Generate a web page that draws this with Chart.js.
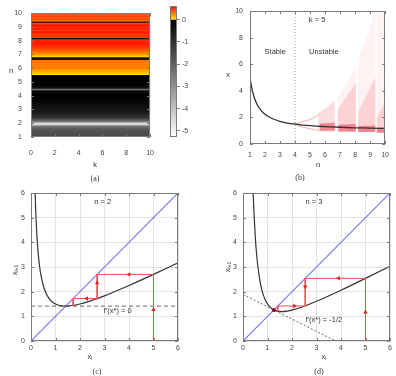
<!DOCTYPE html>
<html><head><meta charset="utf-8">
<script src="https://cdn.jsdelivr.net/npm/chart.js@4/dist/chart.umd.min.js"></script>
<style>
html,body{margin:0;padding:0;background:#fff;}
body{width:396px;height:376px;position:relative;overflow:hidden;font-family:"Liberation Sans",Arial,sans-serif;}
canvas{position:absolute;}
.t{position:absolute;font-size:7.5px;color:#333;transform:translate(-50%,-50%);white-space:nowrap;line-height:1;}
.cap{font-family:"Liberation Serif","Times New Roman",serif;font-size:8px;color:#333;}
.rot{transform:translate(-50%,-50%) rotate(-90deg);}
sub{font-size:5px;vertical-align:-1px;line-height:0;}
</style></head><body>
<canvas id="ca" width="166" height="171" style="left:0;top:0"></canvas>
<canvas id="cbar" width="30" height="171" style="left:166px;top:0"></canvas>
<canvas id="cb" width="200" height="172" style="left:196px;top:0"></canvas>
<canvas id="cc" width="196" height="178" style="left:0;top:180px"></canvas>
<canvas id="cd" width="200" height="178" style="left:196px;top:180px"></canvas>

<div class="t" style="left:11px;top:71px">n</div>
<div class="t" style="left:95px;top:165px">k</div>
<div class="t cap" style="left:95px;top:179px">(a)</div>
<div class="t" style="left:228px;top:75px">x</div>
<div class="t" style="left:318px;top:165px">n</div>
<div class="t cap" style="left:300px;top:178px">(b)</div>
<div class="t rot" style="left:15px;top:270px">x<sub>i+1</sub></div>
<div class="t" style="left:90px;top:357px">x<sub>i</sub></div>
<div class="t cap" style="left:97px;top:372px">(c)</div>
<div class="t rot" style="left:228px;top:267px">x<sub>i+1</sub></div>
<div class="t" style="left:324px;top:357px">x<sub>i</sub></div>
<div class="t cap" style="left:319px;top:372px">(d)</div>

<script>
// ================= DATA =================
// Panel (a): Lyapunov exponent per n (independent of k)
const heatN = [1.0,1.1,1.2,1.3,1.4,1.5,1.6,1.7,1.8,1.9,2.0,2.1,2.2,2.3,2.4,2.5,2.6,2.7,2.8,2.9,
  3.0,3.1,3.2,3.3,3.4,3.5,3.6,3.7,3.8,3.9,4.0,4.1,4.2,4.3,4.4,4.5,4.6,4.7,4.8,4.9,
  5.0,5.1,5.2,5.3,5.4,5.5,5.6,5.7,5.8,5.9,6.0,6.1,6.2,6.3,6.4,6.5,6.6,6.7,6.8,6.9,
  7.0,7.1,7.2,7.3,7.4,7.5,7.6,7.7,7.8,7.9,8.0,8.1,8.2,8.3,8.4,8.5,8.6,8.7,8.8,8.9,
  9.0,9.1,9.2,9.3,9.4,9.5,9.6,9.7,9.8,9.9,10.0];
const heatLyap = [-1.5,-1.55,-1.6,-1.6,-1.65,-1.7,-1.8,-2.0,-2.4,-3.3,-5.27,-3.3,-2.3,-1.7,-1.3,-1.0,-0.85,-0.7,-0.6,-0.5,
  -0.45,-0.4,-0.35,-0.3,-0.25,-0.2,-0.15,-0.12,-0.1,-0.07,-0.05,-0.07,-0.12,-0.2,-0.4,-2.4,-0.4,-0.2,-0.12,-0.1,
  -0.08,-0.07,-0.06,-0.05,-0.04,-0.05,0.05,0.1,0.15,0.2,0.25,0.3,0.25,0.3,0.25,0.3,0.3,-0.4,-0.4,0.05,
  0.15,0.25,0.3,0.35,0.4,0.45,0.5,0.5,0.55,0.55,0.55,0.5,-0.4,0.45,0.5,0.45,0.55,0.55,0.45,0.55,
  0.5,0.55,0.55,0.45,-0.4,0.3,0.45,0.35,0.45,0.4,0.35];
const kRange = [0, 10];
const cbarRange = [-5.27, 0.6];

// Panel (b): k = 5
const bN = [1,1.1,1.2,1.35,1.5,1.75,2,2.5,3,3.5,4,5,6,7,8,9,10];
const bX = [5,4.32,3.82,3.29,2.92,2.51,2.24,1.90,1.71,1.58,1.50,1.38,1.31,1.26,1.22,1.20,1.17];
const p2N = [4,4.3,4.6,5,5.3,5.6];
const p2Up = [1.5,1.6,1.7,1.85,2.0,2.2];
const p2Lo = [1.5,1.35,1.25,1.15,1.08,1.02];
const chaosFaint = [
  [[6.85,0.9],[6.85,3.5],[7.3,4.3],[7.7,5.0],[8.05,6.0],[8.05,0.9]],
  [[8.2,0.9],[8.2,6.3],[8.6,7.5],[9.0,8.7],[9.3,10],[9.35,10],[9.35,0.9]],
  [[9.45,0.85],[9.45,10],[10,10],[10,0.85]]
];
const chaosMid = [
  [[5.55,0.95],[5.55,2.35],[6.0,2.65],[6.65,3.25],[6.65,0.95]],
  [[6.85,0.9],[6.85,2.6],[8.05,4.6],[8.05,0.9]],
  [[8.2,0.9],[8.2,2.4],[9.35,5.0],[9.35,0.9]],
  [[9.45,0.85],[9.45,2.0],[10,3.2],[10,0.85]]
];
const chaosDense = [
  [[5.65,1.0],[5.65,1.55],[6.65,1.6],[6.65,1.0]],
  [[6.9,0.95],[6.9,1.45],[8.05,1.5],[8.05,0.95]],
  [[8.2,0.9],[8.2,1.35],[9.35,1.4],[9.35,0.9]],
  [[9.45,0.85],[9.45,1.2],[10,1.25],[10,0.85]]
];

// Panel (c): n = 2
const cX = [0.16,0.18,0.2,0.25,0.3,0.35,0.4,0.5,0.6,0.7,0.8,0.9,1.0,1.2,1.414,1.6,2.0,2.5,3,3.5,4,5,6];
const cY = [6.33,5.65,5.1,4.13,3.48,3.03,2.7,2.25,1.97,1.78,1.65,1.56,1.5,1.43,1.414,1.43,1.5,1.65,1.83,2.04,2.25,2.7,3.17];
const cCobX = [5,5,2.7,2.7,1.72,1.72];
const cCobY = [0,2.7,2.7,1.72,1.72,1.43];
const cArrX = [5,4,2.7,2.27];
const cArrY = [1.27,2.7,2.35,1.72];
const cFixLevel = 1.414;

// Panel (d): n = 3
const dX = [0.41,0.42,0.45,0.5,0.55,0.6,0.7,0.8,0.9,1.0,1.1,1.2,1.26,1.4,1.6,1.8,2.0,2.5,3,4,5,6];
const dY = [6.15,5.88,5.16,4.25,3.58,3.08,2.39,1.96,1.68,1.5,1.38,1.29,1.26,1.21,1.19,1.21,1.25,1.41,1.61,2.06,2.54,3.03];
const dCobX = [5,5,2.54,2.54,1.42,1.42,1.21,1.21];
const dCobY = [0,2.54,2.54,1.42,1.42,1.21,1.21,1.27];
const dArrX = [5,3.9,2.54,2.1];
const dArrY = [1.17,2.54,2.2,1.42];
const dTangentX = [0,3.78];
const dTangentY = [1.89,0];
const dFixed = [1.26,1.26];

// ================= HELPERS =================
Chart.defaults.font.family = '"Liberation Sans", Arial, sans-serif';
Chart.defaults.font.size = 7;
Chart.defaults.color = '#444';
Chart.defaults.animation = false;
Chart.defaults.responsive = false;
Chart.defaults.events = [];
Chart.defaults.plugins.legend.display = false;
Chart.defaults.plugins.tooltip.enabled = false;

function lyapColor(v){
  if (v >= 0){ const g = Math.round(Math.max(8, Math.min(230, 230 - 370*v))); return `rgb(255,${g},0)`; }
  const c = Math.round(255*Math.min(1, -v/5.27)); return `rgb(${c},${c},${c})`;
}
const xy = (xs, ys) => xs.map((x,i)=>({x, y: ys[i]}));
const ptsXY = pts => pts.map(p=>({x:p[0], y:p[1]}));

function axis(min,max,step,pad,fit,isX,grid){
  return {type:'linear',min,max,offset:false,
    ticks:{stepSize:step,padding:pad,includeBounds:false,autoSkip:false,maxRotation:0,color:'#444',font:{size:7}},
    grid: grid ? {color:'#e4e4e4',drawTicks:false,offset:false,lineWidth:1} : {display:false,drawTicks:false,offset:false},
    border:{display:false},
    afterFit: isX ? (s=>{s.height=fit;}) : (s=>{s.width=fit;})};
}

const framePlugin = { id:'frame', afterDatasetsDraw(chart){
  const {ctx, chartArea:a} = chart; const xs = chart.scales.x, ys = chart.scales.y;
  ctx.save(); ctx.strokeStyle = '#7a7a7a'; ctx.lineWidth = 1; ctx.beginPath();
  const L = 3;
  for (const t of xs.ticks){ const p = Math.round(xs.getPixelForValue(t.value))+0.5;
    ctx.moveTo(p,a.bottom); ctx.lineTo(p,a.bottom-L); ctx.moveTo(p,a.top); ctx.lineTo(p,a.top+L); }
  for (const t of ys.ticks){ const p = Math.round(ys.getPixelForValue(t.value))+0.5;
    ctx.moveTo(a.left,p); ctx.lineTo(a.left+L,p); ctx.moveTo(a.right,p); ctx.lineTo(a.right-L,p); }
  ctx.stroke();
  ctx.strokeRect(Math.round(a.left)+0.5, Math.round(a.top)+0.5, Math.round(a.right-a.left)-1, Math.round(a.bottom-a.top)-1);
  ctx.restore();
}};
const textPlugin = { id:'txt', afterDatasetsDraw(chart, args, opts){
  if (!opts.items) return; const {ctx} = chart;
  ctx.save(); ctx.font = '7.5px "Liberation Sans", Arial, sans-serif'; ctx.fillStyle = '#333';
  ctx.textAlign = 'center'; ctx.textBaseline = 'middle';
  for (const it of opts.items) ctx.fillText(it.text, chart.scales.x.getPixelForValue(it.x), chart.scales.y.getPixelForValue(it.y));
  ctx.restore();
}};

// ================= (a) heatmap =================
new Chart(document.getElementById('ca'), {
  type:'bar',
  data:{datasets:[{data: heatN.map(n=>({y:n, x:kRange})), backgroundColor: heatLyap.map(lyapColor),
    borderWidth:0, barThickness:2, clip:0}]},
  options:{indexAxis:'y',
    layout:{autoPadding:false,padding:{left:0,top:6,right:4,bottom:0}},
    scales:{x:axis(0,10,2,12,34,true,false), y:axis(1,10,1,9,31,false,false)}},
  plugins:[framePlugin]
});

// colorbar
function grad(ctx, v0, v1, c0, c1){
  const ch = ctx.chart, ys = ch.scales.y;
  if (!ys || !ch.chartArea) return c0;
  const g = ch.ctx.createLinearGradient(0, ys.getPixelForValue(v0), 0, ys.getPixelForValue(v1));
  g.addColorStop(0,c0); g.addColorStop(1,c1); return g;
}
new Chart(document.getElementById('cbar'), {
  type:'bar',
  data:{labels:[''], datasets:[
    {data:[[cbarRange[0],0]], grouped:false, categoryPercentage:1, barPercentage:1, borderWidth:0,
      backgroundColor:c=>grad(c,0,cbarRange[0],'#000','#fff')},
    {data:[[0,cbarRange[1]]], grouped:false, categoryPercentage:1, barPercentage:1, borderWidth:0,
      backgroundColor:c=>grad(c,0,cbarRange[1],'rgb(255,230,0)','rgb(255,8,0)')}]},
  options:{layout:{autoPadding:false,padding:{left:4,top:6,right:0,bottom:34}},
    scales:{x:{display:false},
      y:{position:'right',min:cbarRange[0],max:cbarRange[1],
        ticks:{stepSize:1,includeBounds:false,padding:2,color:'#444',font:{size:7}},
        grid:{drawOnChartArea:false,drawTicks:true,tickLength:3,color:'#7a7a7a'},
        border:{display:false}, afterFit:s=>{s.width=19;}}}},
  plugins:[{id:'cbframe', afterDatasetsDraw(chart){ const {ctx, chartArea:a}=chart; ctx.save(); ctx.strokeStyle='#7a7a7a'; ctx.lineWidth=1;
    ctx.strokeRect(Math.round(a.left)+0.5, Math.round(a.top)+0.5, Math.round(a.right-a.left)-1, Math.round(a.bottom-a.top)-1); ctx.restore(); }}]
});

// ================= (b) bifurcation =================
const polyDs = (pts, color, order) => ({data: ptsXY(pts), fill:'shape', backgroundColor:color, borderWidth:0, pointRadius:0, order});
const bSets = [
  {data: xy(bN,bX), borderColor:'#333', borderWidth:1.3, pointRadius:0, cubicInterpolationMode:'monotone', fill:false, order:0},
  {data: [{x:4,y:0},{x:4,y:10}], borderColor:'#999', borderWidth:1, borderDash:[1,2], pointRadius:0, fill:false, order:1},
  {data: xy(p2N,p2Up), borderColor:'rgba(235,70,80,0.45)', borderWidth:1, pointRadius:0, cubicInterpolationMode:'monotone', fill:false, order:2},
  {data: xy(p2N,p2Lo), borderColor:'rgba(235,70,80,0.45)', borderWidth:1, pointRadius:0, cubicInterpolationMode:'monotone', fill:false, order:2},
];
chaosDense.forEach(p=>bSets.push(polyDs(p,'rgba(232,25,40,0.42)',3)));
chaosMid.forEach(p=>bSets.push(polyDs(p,'rgba(235,50,65,0.17)',4)));
chaosFaint.forEach(p=>bSets.push(polyDs(p,'rgba(235,70,85,0.07)',5)));
new Chart(document.getElementById('cb'), {
  type:'line', data:{datasets:bSets},
  options:{layout:{autoPadding:false,padding:{left:0,top:6,right:7,bottom:0}},
    scales:{x:axis(1,10,1,7,28,true,false), y:axis(0,10,2,7,54,false,false)},
    plugins:{txt:{items:[{text:'k = 5',x:5.47,y:9.33},{text:'Stable',x:2.68,y:6.94},{text:'Unstable',x:5.92,y:6.94}]}}},
  plugins:[framePlugin, textPlugin]
});

// ================= (c) & (d) cobwebs =================
function cobChart(id, curveX, curveY, refLine, refDash, cobX, cobY, arrX, arrY, arrRot, extra, yWidth, rightPad, labels){
  const sets = [
    {data: xy(arrX,arrY), showLine:false, pointStyle:'triangle', rotation:arrRot, pointRadius:2.6, pointBackgroundColor:'rgb(225,35,35)', pointBorderWidth:0, pointBorderColor:'rgb(225,35,35)', borderColor:'rgb(225,35,35)', order:0},
    {data: xy(curveX,curveY), borderColor:'#333', borderWidth:1.2, pointRadius:0, cubicInterpolationMode:'monotone', fill:false, order:2},
    {data: xy(cobX,cobY), borderColor:'rgb(238,80,80)', borderWidth:1, pointRadius:0, fill:false, order:1},
    {data: [{x:0,y:0},{x:6,y:6}], borderColor:'rgb(115,115,240)', borderWidth:1.1, pointRadius:0, fill:false, order:3},
    {data: refLine, borderColor:'#666', borderWidth:1, borderDash:refDash, pointRadius:0, fill:false, order:4},
  ];
  if (extra) sets.push(extra);
  new Chart(document.getElementById(id), {
    type:'line', data:{datasets:sets},
    options:{layout:{autoPadding:false,padding:{left:0,top:13,right:rightPad,bottom:0}},
      scales:{x:axis(0,6,1,3,17,true,true), y:axis(0,6,1,6,yWidth,false,true)},
      plugins:{txt:{items:labels}}},
    plugins:[framePlugin, textPlugin]
  });
}
cobChart('cc', cX, cY, [{x:0,y:cFixLevel},{x:6,y:cFixLevel}], [4,3], cCobX, cCobY, cArrX, cArrY, [0,-90,0,-90], null, 31, 18,
  [{text:'n = 2',x:2.93,y:5.62},{text:"f'(x*) = 0",x:3.54,y:1.23}]);
cobChart('cd', dX, dY, xy(dTangentX,dTangentY), [2,2], dCobX, dCobY, dArrX, dArrY, [0,-90,180,90],
  {data:[{x:dFixed[0],y:dFixed[1]}], showLine:false, pointRadius:2, pointBackgroundColor:'rgb(140,10,40)', pointBorderWidth:0, borderColor:'rgb(140,10,40)', order:0},
  47, 6, [{text:'n = 3',x:2.9,y:5.62},{text:"f'(x*) = -1/2",x:3.3,y:0.86}]);
</script>
</body></html>
